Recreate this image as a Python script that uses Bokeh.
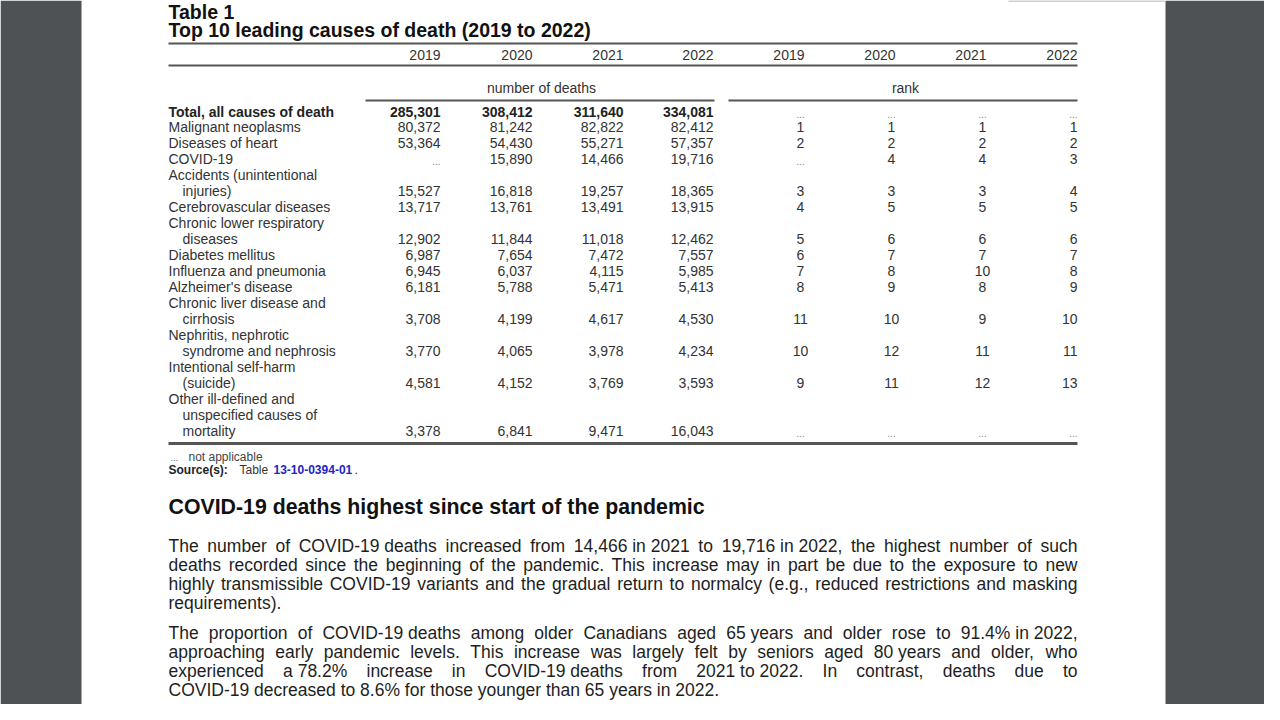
from bokeh.plotting import figure
from bokeh.models import Range1d, ColumnDataSource
from bokeh.core.properties import value
from bokeh.embed import file_html
from bokeh.resources import INLINE

FONT = "Liberation Sans"

# ---------------- data ----------------
years = ["2019", "2020", "2021", "2022"]
cause_labels = [
    "Total, all causes of death",
    "Malignant neoplasms",
    "Diseases of heart",
    "COVID-19",
    "Accidents (unintentional\ninjuries)",
    "Cerebrovascular diseases",
    "Chronic lower respiratory\ndiseases",
    "Diabetes mellitus",
    "Influenza and pneumonia",
    "Alzheimer's disease",
    "Chronic liver disease and\ncirrhosis",
    "Nephritis, nephrotic\nsyndrome and nephrosis",
    "Intentional self-harm\n(suicide)",
    "Other ill-defined and\nunspecified causes of\nmortality",
]
deaths_2019 = [285301, 80372, 53364, None, 15527, 13717, 12902, 6987, 6945, 6181, 3708, 3770, 4581, 3378]
deaths_2020 = [308412, 81242, 54430, 15890, 16818, 13761, 11844, 7654, 6037, 5788, 4199, 4065, 4152, 6841]
deaths_2021 = [311640, 82822, 55271, 14466, 19257, 13491, 11018, 7472, 4115, 5471, 4617, 3978, 3769, 9471]
deaths_2022 = [334081, 82412, 57357, 19716, 18365, 13915, 12462, 7557, 5985, 5413, 4530, 4234, 3593, 16043]
rank_2019 = [None, 1, 2, None, 3, 4, 5, 6, 7, 8, 11, 10, 9, None]
rank_2020 = [None, 1, 2, 4, 3, 5, 6, 7, 8, 9, 10, 12, 11, None]
rank_2021 = [None, 1, 2, 4, 3, 5, 6, 7, 10, 8, 9, 11, 12, None]
rank_2022 = [None, 1, 2, 3, 4, 5, 6, 7, 8, 9, 10, 11, 13, None]

table_number = "Table 1"
table_title = "Top 10 leading causes of death (2019 to 2022)"
deaths_header = "number of deaths"
rank_header = "rank"
footnote = "not applicable"
source_label = "Source(s):"
source_link = "13-10-0394-01"
heading = "COVID-19 deaths highest since start of the pandemic"
NB = "\u00a0"
para1 = [
    "The number of COVID-19" + NB + "deaths increased from 14,466" + NB + "in" + NB + "2021 to 19,716" + NB + "in" + NB + "2022, the highest number of such",
    "deaths recorded since the beginning of the pandemic. This increase may in part be due to the exposure to new",
    "highly transmissible COVID-19 variants and the gradual return to normalcy (e.g., reduced restrictions and masking",
    "requirements).",
]
para2 = [
    "The proportion of COVID-19" + NB + "deaths among older Canadians aged 65" + NB + "years and older rose to 91.4%" + NB + "in" + NB + "2022,",
    "approaching early pandemic levels. This increase was largely felt by seniors aged 80" + NB + "years and older, who",
    "experienced a" + NB + "78.2% increase in COVID-19" + NB + "deaths from 2021" + NB + "to" + NB + "2022. In contrast, deaths due to",
    "COVID-19 decreased to 8.6% for those younger than 65 years in 2022.",
]

# ---------------- figure ----------------
W, H = 1264, 704
p = figure(width=W, height=H, x_range=Range1d(0, W), y_range=Range1d(H, 0),
           output_backend="svg", toolbar_location=None, min_border=0,
           x_axis_location=None, y_axis_location=None)
p.grid.visible = False
p.outline_line_color = None
p.background_fill_color = "white"
p.border_fill_color = "white"

# dark viewer panels
p.quad(left=[0, 1165], right=[81, W], top=[0, 0], bottom=[H, H],
       fill_color="#4e5254", line_color=None)
p.segment(x0=[1008], x1=[1165], y0=[0.5], y1=[0.5], line_width=2, line_color="#cfcfcf")


def txt(xs, ys, texts, size, color="#333333", align="left", bold=False):
    src = ColumnDataSource(dict(x=list(xs), y=list(ys), t=list(texts)))
    p.text(x="x", y="y", text="t", source=src, text_font=value(FONT),
           text_font_size=f"{size}px", text_color=color, text_align=align,
           text_baseline="middle", text_font_style="bold" if bold else "normal")


def hline(x0, x1, y, w=2, color="#555555"):
    p.segment(x0=[x0], x1=[x1], y0=[y], y1=[y], line_width=w, line_color=color)


# title
txt([168], [11], [table_number], 19.5, "#111111", bold=True)
txt([168], [29], [table_title], 19.5, "#111111", bold=True)
hline(168, 1077, 43, 2.2)

# year headers
num_right = [440, 532, 623, 713]
rank_hdr_right = [804, 895, 986, 1077]
txt(num_right, [54] * 4, years, 14, align="right")
txt(rank_hdr_right, [54] * 4, years, 14, align="right")
hline(168, 1077, 65, 2.2)
txt([541], [87], [deaths_header], 14, align="center")
txt([905], [87], [rank_header], 14, align="center")
hline(365, 714, 100, 1.8)
hline(728, 1077, 100, 1.8)

# rows
LINE = 15.95
Y0 = 111
lab_x, lab_y, lab_t = [], [], []
row_y = []
idx = 0
for lab in cause_labels:
    parts = lab.split("\n")
    for j, part in enumerate(parts):
        lab_x.append(168 if j == 0 else 182)
        lab_y.append(Y0 + LINE * idx)
        lab_t.append(part)
        idx += 1
    row_y.append(Y0 + LINE * (idx - 1))

txt(lab_x[1:], lab_y[1:], lab_t[1:], 14)
txt(lab_x[:1], lab_y[:1], lab_t[:1], 14, "#222222", bold=True)


def column(vals, x, align, fmt):
    vx, vy, vt, ex, ey = [], [], [], [], []
    bx, by, bt = [], [], []
    for i, v in enumerate(vals):
        if v is None:
            ex.append(x)
            ey.append(row_y[i] + 2)
        elif i == 0:
            bx.append(x); by.append(row_y[i]); bt.append(fmt(v))
        else:
            vx.append(x); vy.append(row_y[i]); vt.append(fmt(v))
    txt(vx, vy, vt, 14, align=align)
    if bt:
        txt(bx, by, bt, 14, "#222222", align=align, bold=True)
    if ex:
        txt(ex, ey, ["..."] * len(ex), 10, "#888888", align=align)


for vals, x in zip([deaths_2019, deaths_2020, deaths_2021, deaths_2022], num_right):
    column(vals, x, "right", lambda v: f"{v:,}")
for vals, x, al in zip([rank_2019, rank_2020, rank_2021, rank_2022],
                       [800, 891, 982, 1077], ["center", "center", "center", "right"]):
    column(vals, x, al, lambda v: str(v))

hline(168, 1077, 443, 3)

# footnotes
txt([170], [457], ["..."], 9, "#666666")
txt([188], [456], [footnote], 12, "#444444")
txt([168], [469], [source_label], 12, "#222222", bold=True)
txt([239], [469], ["Table"], 12, "#333333")
txt([273], [469], [source_link], 12, "#2323c8", bold=True)
txt([354], [469], ["."], 12, "#333333")

# heading
txt([168], [506], [heading], 21.3, "#111111", bold=True)

# paragraph text, justified
AW = {" ": 278, "\u00a0": 278, "%": 889, "'": 191, "(": 333, ")": 333, ",": 278, "-": 333,
      ".": 278, ":": 278}
for c in "0123456789":
    AW[c] = 556
for c, w in zip("ABCDEFGHIJKLMNOPQRSTUVWXYZ",
                [667, 667, 722, 722, 667, 611, 778, 722, 278, 500, 667, 556, 833, 722, 778, 667,
                 778, 722, 667, 611, 722, 667, 944, 667, 667, 611]):
    AW[c] = w
for c, w in zip("abcdefghijklmnopqrstuvwxyz",
                [556, 556, 500, 556, 556, 278, 556, 556, 222, 222, 500, 222, 833, 556, 556, 556,
                 556, 333, 500, 278, 556, 500, 722, 500, 500, 500]):
    AW[c] = w


def tw(s, size):
    return sum(AW.get(c, 556) for c in s) * size / 1000.0


def paragraph(lines, y0, size=17.5, lh=19.0, left=168, right=1077):
    xs, ys, ts = [], [], []
    for k, line in enumerate(lines):
        y = y0 + k * lh
        words = line.split(" ")
        last = k == len(lines) - 1
        if last or len(words) == 1:
            gap = tw(" ", size)
        else:
            gap = (right - left - sum(tw(w, size) for w in words)) / (len(words) - 1)
        x = left
        for w in words:
            xs.append(x); ys.append(y); ts.append(w.replace("\u00a0", " "))
            x += tw(w, size) + gap
    txt(xs, ys, ts, size, "#1e1e1e")


paragraph(para1, 545)
paragraph(para2, 632)

open("out.html", "w").write(file_html(p, INLINE))
